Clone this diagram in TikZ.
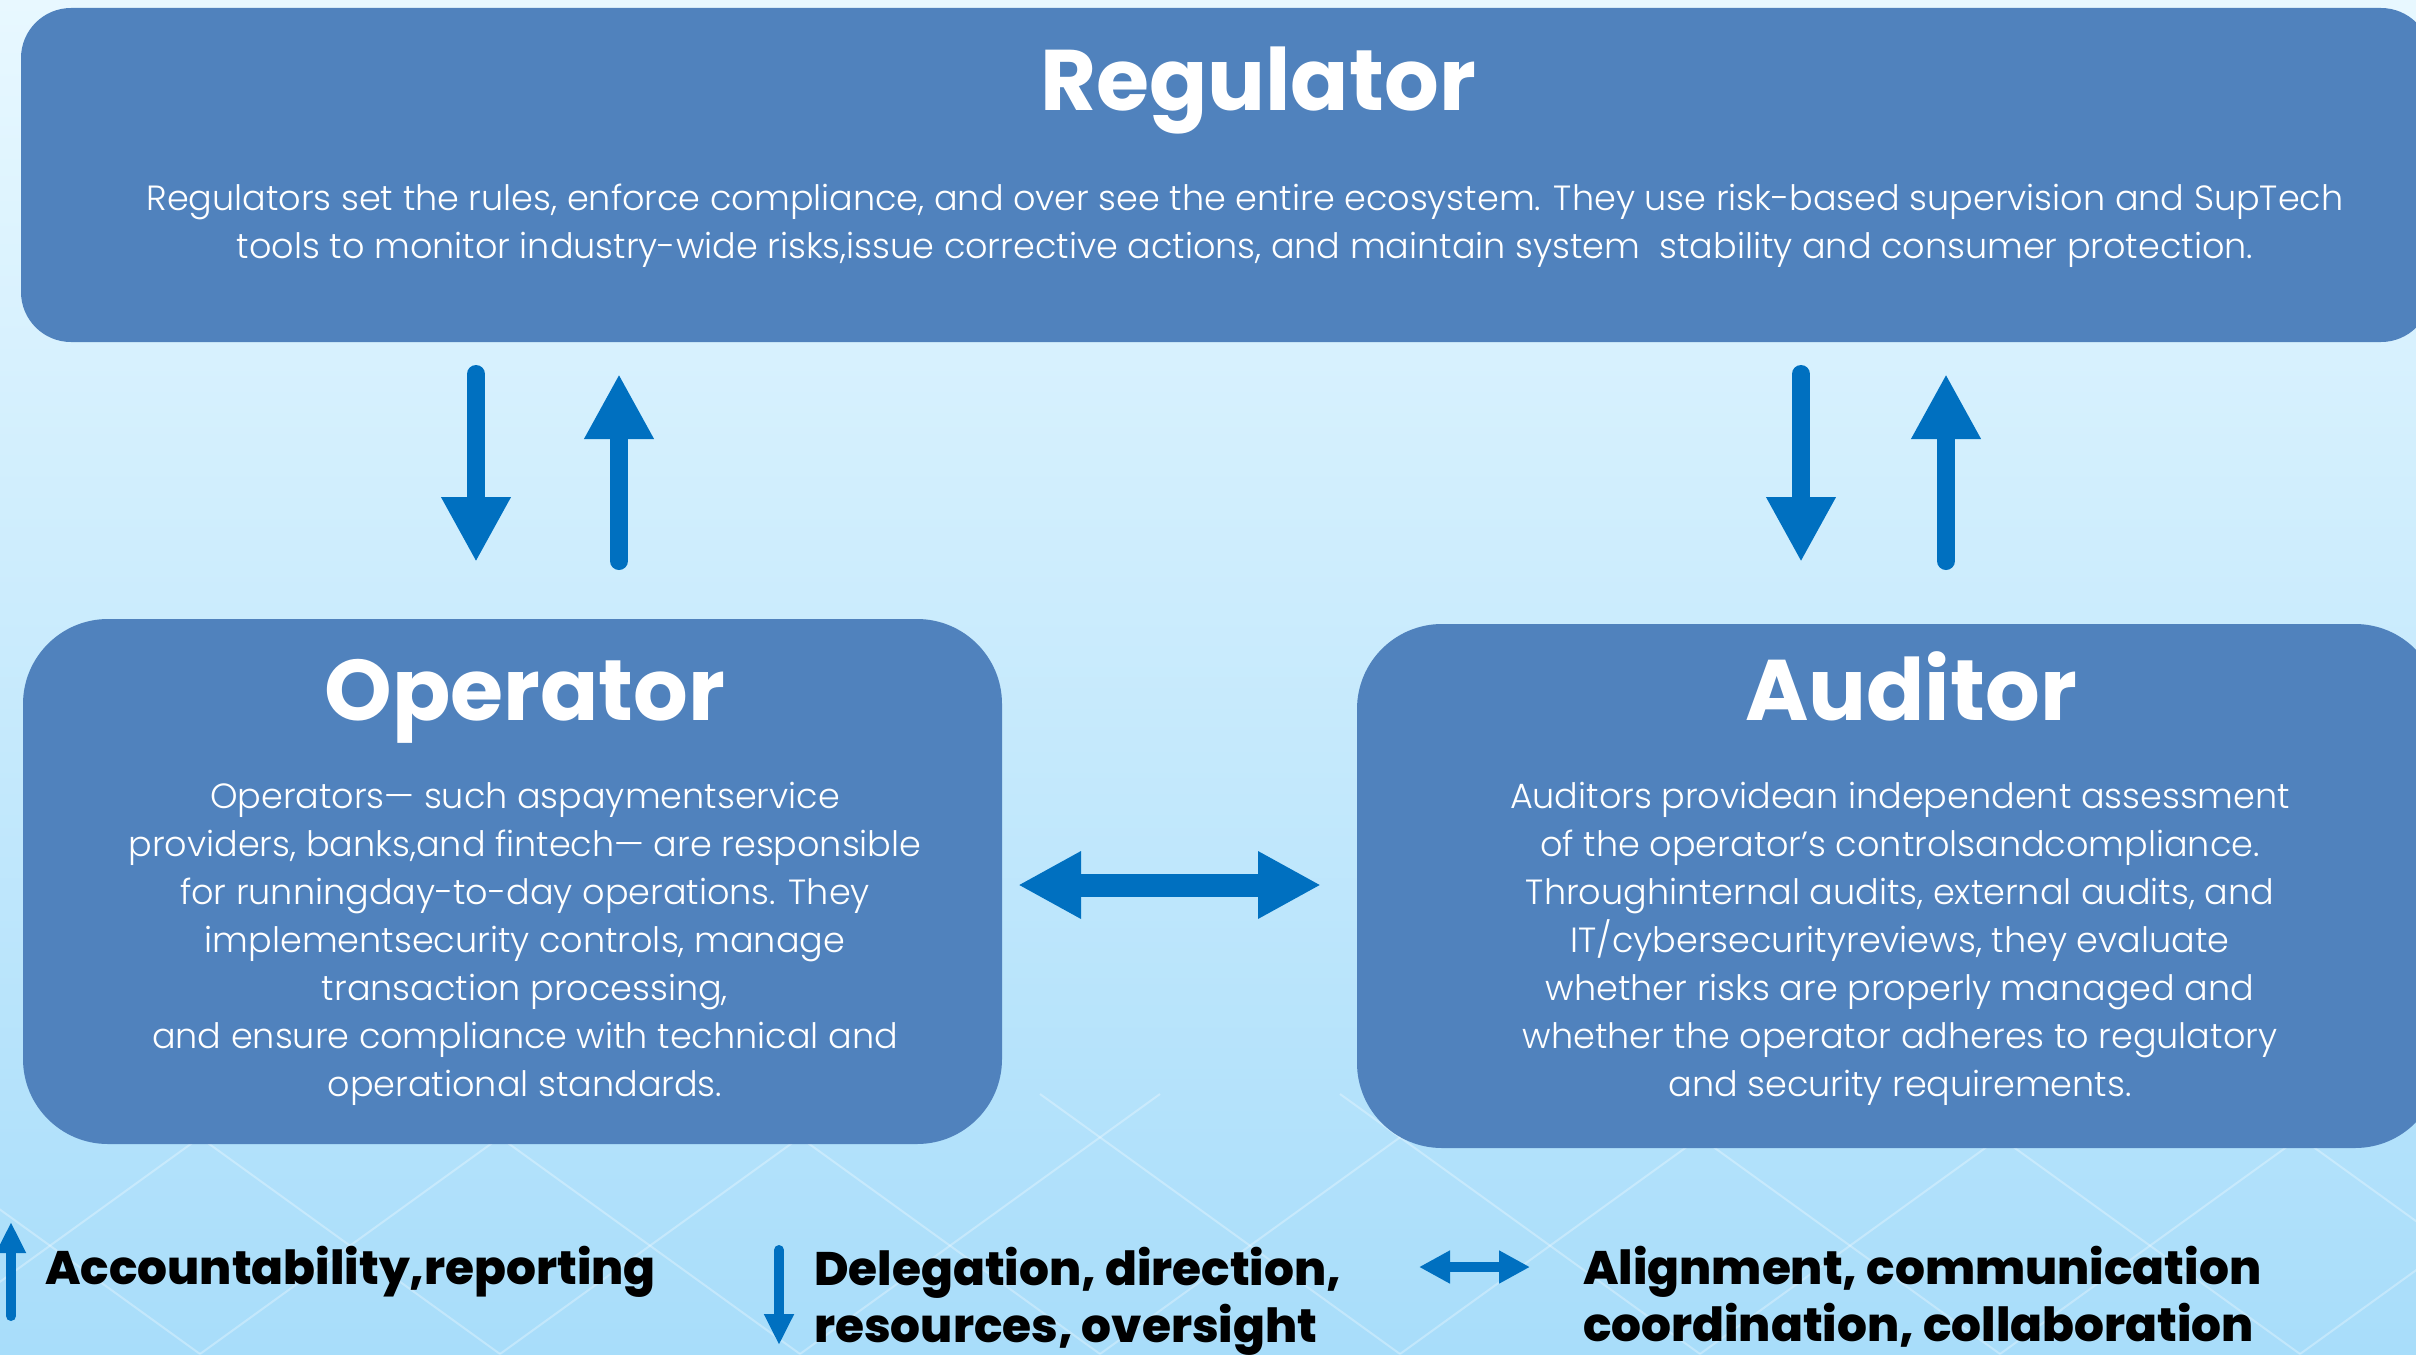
\documentclass[tikz,border=0pt]{standalone}
\usepackage{fontspec}
\setmainfont{Poppins}
\newfontfamily\lightfont{Poppins Light}
\newfontfamily\heavyfont{Poppins ExtraBold}
\usetikzlibrary{arrows.meta,calc}
\definecolor{boxblue}{RGB}{80,130,189}
\definecolor{arrowblue}{RGB}{0,112,192}
\definecolor{skytop}{RGB}{232,248,255}
\definecolor{skymid}{RGB}{214,240,253}
\definecolor{skybot}{RGB}{168,221,250}

\begin{document}
\begin{tikzpicture}[x=1pt,y=-1pt,
  box/.style={fill=boxblue,inner sep=0pt,outer sep=0pt},
  boxtitle/.style={text=white,font=\bfseries\fontsize{86}{90}\selectfont,inner sep=0pt,anchor=base},
  boxtext/.style={text=white,font=\lightfont\fontsize{35}{48}\selectfont,align=center,inner sep=0pt,anchor=base},
  legend/.style={text=black,font=\heavyfont\fontsize{47}{57}\selectfont,align=left,inner sep=0pt,anchor=base west},
  bigarrow/.style={arrowblue,line width=18pt,line cap=round,-{Triangle[length=65pt,width=65pt]}},
  wide/.style={arrowblue,line width=23pt,{Triangle[length=63pt,width=63pt]}-{Triangle[length=63pt,width=63pt]}},
  keyarrow/.style={arrowblue,line width=10pt,line cap=round,-{Triangle[length=31pt,width=28pt]}},
  lattice/.style={white,opacity=0.3,line width=2pt}]
\useasboundingbox (0,0) rectangle (2416,1354);
\clip (0,0) rectangle (2416,1354);
\shade[top color=skytop,middle color=skymid,bottom color=skybot] (0,0) rectangle (2416,1354);
\foreach \x in {-400,-100,...,2800} {
  \draw[lattice] (\x,1354) -- ++(360,-260);
  \draw[lattice] (\x,1354) -- ++(-360,-260);
}

\node[box,rounded corners=50pt,minimum width=2410pt,minimum height=334pt] (reg) at (1226,175) {};
\node[box,rounded corners=85pt,minimum width=979pt,minimum height=525pt] (op) at (512.5,881.5) {};
\node[box,rounded corners=85pt,minimum width=1083pt,minimum height=524pt] (aud) at (1898.5,886) {};

\node[boxtitle] (regtitle) at (1258,110) {Regulator};
\node[boxtitle] (optitle) at (525,720) {Operator};
\node[boxtitle] (audtitle) at (1911,720) {Auditor};

\node[boxtext] (regtext) at (1245,258) {Regulators set the rules, enforce compliance, and over see the entire ecosystem. They use risk-based supervision and SupTech\\
tools to monitor industry-wide risks,issue corrective actions, and maintain system \ stability and consumer protection.};
\node[boxtext] (optext) at (525,1096) {Operators— such aspaymentservice\\
providers, banks,and fintech— are responsible\\
for runningday-to-day operations. They\\
implementsecurity controls, manage\\
transaction processing,\\
and ensure compliance with technical and\\
operational standards.};
\node[boxtext] (audtext) at (1900,1096) {Auditors providean independent assessment\\
of the operator’s controlsandcompliance.\\
Throughinternal audits, external audits, and\\
IT/cybersecurityreviews, they evaluate\\
whether risks are properly managed and\\
whether the operator adheres to regulatory\\
and security requirements.};

\coordinate (c1) at (476,0);
\coordinate (c2) at (619,0);
\coordinate (c3) at (1801,0);
\coordinate (c4) at (1946,0);
\coordinate (c5) at (0,885);
\draw[bigarrow,shorten <=32pt,shorten >=57pt] (reg.south -| c1) -- (op.north -| c1);
\draw[bigarrow,shorten <=58pt,shorten >=32pt] (op.north -| c2) -- (reg.south -| c2);
\draw[bigarrow,shorten <=32pt,shorten >=62pt] (reg.south -| c3) -- (aud.north -| c3);
\draw[bigarrow,shorten <=63pt,shorten >=32pt] (aud.north -| c4) -- (reg.south -| c4);
\draw[wide,shorten <=16pt,shorten >=36pt] (op.east |- c5) -- (aud.west |- c5);

\coordinate (upfrom) at (11,1316);
\coordinate (upto) at (11,1222);
\coordinate (downfrom) at (779,1250);
\coordinate (downto) at (779,1345);
\coordinate (bothfrom) at (1419,1267);
\coordinate (bothto) at (1530,1267);
\draw[keyarrow] (upfrom) -- (upto);
\draw[keyarrow] (downfrom) -- (downto);
\draw[keyarrow,line cap=butt,{Triangle[length=31pt,width=31pt]}-{Triangle[length=31pt,width=31pt]}] (bothfrom) -- (bothto);
\node[legend] (upkey) at (45,1284) {Accountability,reporting};
\node[legend] (downkey) at (814,1342) {Delegation, direction,\\resources, oversight};
\node[legend] (bothkey) at (1583,1341) {Alignment, communication\\coordination, collaboration};
\end{tikzpicture}
\end{document}
